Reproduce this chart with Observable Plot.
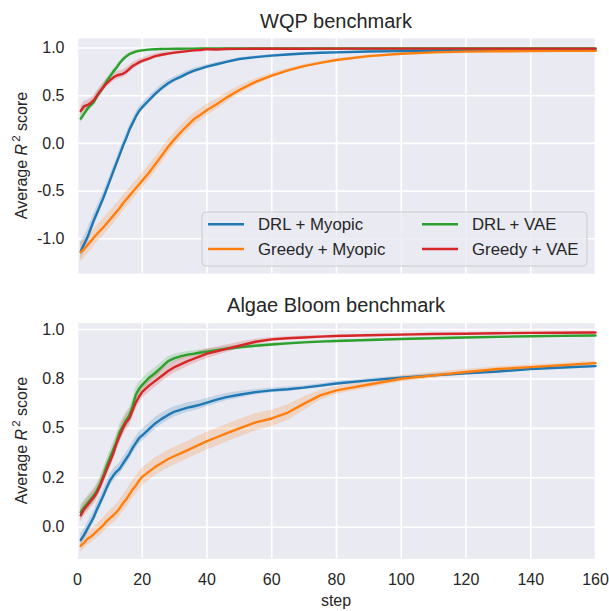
<!DOCTYPE html>
<html>
<head>
<meta charset="utf-8">
<script src="https://cdn.jsdelivr.net/npm/d3@7"></script>
<script src="https://cdn.jsdelivr.net/npm/@observablehq/plot@0.6"></script>
<style>
  body { margin: 0; background: #fff; }
  #chart { width: 609px; }
  #chart svg { display: block; }
</style>
</head>
<body>
<div id="chart"></div>
<script>
// Evaluation steps at which the averaged scores are recorded
const steps = [1,2,3,4,5,6,7,8,9,10,
  11,12,13,14,15,16,17,18,19,20,
  22,24,26,28,30,32,34,36,38,40,
  43,46,50,55,60,65,70,75,80,
  90,100,110,120,130,140,150,160];

const seriesNames = ["DRL + Myopic", "Greedy + Myopic", "DRL + VAE", "Greedy + VAE"];
const seriesColors = ["#1f77b4", "#ff7f0e", "#2ca02c", "#d62728"];

const xTicks = [0, 20, 40, 60, 80, 100, 120, 140, 160];

// WQP benchmark: mean R² and spread
const wqpDrlMyopic = [-1.13,-1.06,-0.99,-0.90,-0.81,-0.73,-0.65,-0.57,-0.48,-0.39,
  -0.30,-0.21,-0.12,-0.03,0.05,0.14,0.21,0.28,0.34,0.38,
  0.45,0.52,0.58,0.63,0.67,0.70,0.735,0.763,0.785,0.805,
  0.83,0.855,0.885,0.905,0.92,0.932,0.942,0.95,0.955,
  0.963,0.968,0.972,0.974,0.975,0.976,0.976,0.977];
const wqpDrlMyopicSd = [0.09,0.085,0.08,0.075,0.07,0.065,0.06,0.058,0.055,0.052,
  0.05,0.05,0.048,0.047,0.046,0.045,0.044,0.043,0.042,0.04,
  0.038,0.036,0.034,0.032,0.03,0.028,0.026,0.024,0.022,0.02,
  0.018,0.016,0.014,0.012,0.011,0.01,0.009,0.008,0.008,
  0.007,0.006,0.005,0.005,0.005,0.005,0.005,0.005];

const wqpGreedyMyopic = [-1.14,-1.11,-1.07,-1.03,-0.99,-0.95,-0.915,-0.88,-0.84,-0.80,
  -0.76,-0.72,-0.68,-0.63,-0.59,-0.55,-0.51,-0.47,-0.43,-0.39,
  -0.31,-0.22,-0.13,-0.035,0.045,0.12,0.19,0.255,0.30,0.35,
  0.41,0.48,0.56,0.645,0.71,0.765,0.81,0.845,0.875,
  0.915,0.94,0.955,0.962,0.966,0.968,0.97,0.97];
const wqpGreedyMyopicSd = [0.1,0.1,0.095,0.095,0.09,0.09,0.09,0.09,0.09,0.09,
  0.085,0.085,0.085,0.085,0.08,0.08,0.08,0.08,0.08,0.08,
  0.078,0.076,0.074,0.072,0.07,0.068,0.066,0.064,0.062,0.06,
  0.055,0.05,0.042,0.032,0.025,0.02,0.017,0.015,0.013,
  0.011,0.009,0.008,0.007,0.006,0.006,0.005,0.005];

const wqpDrlVae = [0.26,0.31,0.36,0.40,0.43,0.49,0.54,0.59,0.65,0.70,
  0.75,0.79,0.84,0.88,0.91,0.935,0.95,0.962,0.97,0.976,
  0.983,0.987,0.99,0.991,0.992,0.993,0.994,0.994,0.995,0.995,
  0.995,0.995,0.995,0.995,0.995,0.995,0.995,0.995,0.995,
  0.995,0.995,0.995,0.995,0.995,0.995,0.995,0.995];
const wqpDrlVaeSd = [0.05,0.048,0.045,0.043,0.04,0.038,0.036,0.034,0.032,0.03,
  0.028,0.026,0.024,0.022,0.02,0.018,0.016,0.014,0.012,0.01,
  0.009,0.008,0.007,0.006,0.005,0.005,0.004,0.004,0.004,0.004,
  0.004,0.004,0.004,0.004,0.004,0.004,0.004,0.004,0.004,
  0.003,0.003,0.003,0.003,0.003,0.003,0.003,0.003];

const wqpGreedyVae = [0.34,0.39,0.40,0.42,0.45,0.50,0.55,0.59,0.63,0.66,
  0.69,0.71,0.72,0.73,0.75,0.78,0.81,0.83,0.85,0.865,
  0.89,0.915,0.93,0.942,0.952,0.96,0.968,0.976,0.98,0.988,
  0.984,0.99,0.991,0.992,0.993,0.993,0.993,0.994,0.994,
  0.994,0.994,0.994,0.994,0.994,0.994,0.994,0.994];
const wqpGreedyVaeSd = [0.05,0.05,0.05,0.05,0.05,0.048,0.047,0.046,0.045,0.044,
  0.043,0.042,0.041,0.04,0.04,0.038,0.036,0.034,0.032,0.03,
  0.028,0.026,0.024,0.022,0.02,0.018,0.016,0.015,0.014,0.013,
  0.012,0.011,0.01,0.009,0.008,0.007,0.006,0.006,0.005,
  0.005,0.005,0.005,0.005,0.005,0.005,0.005,0.005];

// Algae Bloom benchmark: mean R² and spread
const algaeDrlMyopic = [-0.065,-0.04,-0.01,0.02,0.05,0.09,0.125,0.16,0.20,0.235,
  0.26,0.28,0.295,0.32,0.345,0.37,0.40,0.425,0.45,0.465,
  0.495,0.525,0.548,0.568,0.585,0.595,0.605,0.612,0.62,0.63,
  0.645,0.658,0.67,0.683,0.692,0.698,0.706,0.716,0.727,
  0.743,0.756,0.768,0.779,0.788,0.8,0.808,0.815];
const algaeDrlMyopicSd = [0.03,0.03,0.03,0.03,0.03,0.03,0.03,0.03,0.03,0.03,
  0.03,0.03,0.03,0.03,0.03,0.03,0.03,0.03,0.03,0.03,
  0.03,0.03,0.028,0.027,0.026,0.025,0.024,0.023,0.022,0.021,
  0.02,0.018,0.016,0.014,0.012,0.011,0.01,0.01,0.01,
  0.009,0.008,0.008,0.007,0.007,0.007,0.007,0.007];

const algaeGreedyMyopic = [-0.095,-0.08,-0.06,-0.05,-0.035,-0.02,-0.005,0.01,0.03,0.045,
  0.06,0.075,0.095,0.12,0.14,0.165,0.19,0.21,0.235,0.255,
  0.28,0.305,0.325,0.345,0.36,0.375,0.39,0.405,0.42,0.435,
  0.455,0.475,0.5,0.53,0.55,0.58,0.625,0.667,0.692,
  0.722,0.751,0.768,0.785,0.8,0.81,0.82,0.83];
const algaeGreedyMyopicSd = [0.03,0.03,0.032,0.033,0.034,0.035,0.036,0.037,0.038,0.039,
  0.04,0.04,0.041,0.042,0.043,0.044,0.045,0.045,0.045,0.045,
  0.045,0.045,0.045,0.045,0.045,0.045,0.045,0.045,0.045,0.045,
  0.045,0.045,0.045,0.044,0.042,0.04,0.035,0.025,0.02,
  0.018,0.016,0.015,0.014,0.012,0.011,0.01,0.01];

const algaeDrlVae = [0.076,0.10,0.12,0.14,0.16,0.185,0.22,0.26,0.31,0.35,
  0.39,0.43,0.48,0.51,0.54,0.565,0.61,0.67,0.70,0.72,
  0.755,0.78,0.81,0.84,0.855,0.865,0.873,0.878,0.884,0.888,
  0.895,0.903,0.91,0.918,0.924,0.93,0.935,0.939,0.942,
  0.947,0.952,0.956,0.96,0.963,0.966,0.968,0.97];
const algaeDrlVaeSd = [0.035,0.035,0.035,0.035,0.035,0.035,0.035,0.035,0.035,0.035,
  0.037,0.038,0.04,0.04,0.04,0.038,0.036,0.034,0.032,0.03,
  0.028,0.026,0.024,0.022,0.02,0.018,0.016,0.015,0.014,0.013,
  0.012,0.011,0.01,0.009,0.008,0.007,0.006,0.006,0.005,
  0.005,0.005,0.005,0.005,0.005,0.005,0.005,0.005];

const algaeGreedyVae = [0.06,0.09,0.11,0.13,0.15,0.175,0.21,0.25,0.29,0.33,
  0.37,0.42,0.46,0.50,0.53,0.55,0.59,0.63,0.66,0.685,
  0.715,0.74,0.765,0.79,0.81,0.825,0.84,0.853,0.866,0.878,
  0.89,0.902,0.918,0.938,0.95,0.956,0.96,0.964,0.967,
  0.971,0.974,0.977,0.979,0.981,0.983,0.984,0.985];
const algaeGreedyVaeSd = [0.035,0.035,0.035,0.035,0.035,0.035,0.035,0.035,0.035,0.035,
  0.035,0.036,0.037,0.038,0.038,0.038,0.037,0.036,0.035,0.034,
  0.033,0.032,0.031,0.03,0.029,0.028,0.027,0.026,0.025,0.024,
  0.022,0.02,0.017,0.013,0.01,0.008,0.007,0.006,0.005,
  0.005,0.005,0.005,0.005,0.005,0.005,0.005,0.005];

// Y axis ticks for each panel
const wqpYTicks = [-1, -0.5, 0, 0.5, 1];
const wqpYTickLabels = ["-1.0", "-0.5", "0.0", "0.5", "1.0"];
const algaeYTicks = [0, 0.25, 0.5, 0.75, 1];
const algaeYTickLabels = ["0.0", "0.2", "0.5", "0.8", "1.0"];

const FONT = '"Liberation Sans", Arial, "DejaVu Sans", sans-serif';
const TEXT = "#262626";
const W = 609, ML = 77, MR = 14;

function tidy(list) {
  return list.flatMap(([name, values, sd]) =>
    steps.map((s, i) => ({
      series: name, step: s, value: values[i],
      lo: values[i] - sd[i], hi: values[i] + sd[i]
    })));
}

function panel({title, rows, yDomain, yTicks, yTickLabels, height, marginTop, marginBottom, showX, legend}) {
  const svg = Plot.plot({
    width: W, height, marginLeft: ML, marginRight: MR, marginTop, marginBottom,
    style: {fontFamily: FONT, fontSize: "16px", color: TEXT, background: "white", overflow: "visible"},
    x: {domain: [0, 160], axis: null},
    y: {domain: yDomain, axis: null},
    color: {domain: seriesNames, range: seriesColors},
    marks: [
      Plot.frame({fill: "#EAEAF2", stroke: "none"}),
      Plot.gridX(xTicks, {stroke: "#ffffff", strokeOpacity: 1, strokeWidth: 1.6}),
      Plot.gridY(yTicks, {stroke: "#ffffff", strokeOpacity: 1, strokeWidth: 1.6}),
      Plot.areaY(rows, {x: "step", y1: "lo", y2: "hi", z: "series", fill: "series", fillOpacity: 0.2}),
      Plot.lineY(rows, {x: "step", y: "value", z: "series", stroke: "series", strokeWidth: 2.4}),
      Plot.axisY(yTicks, {tickSize: 0, tickPadding: 13, label: null, fill: TEXT,
        tickFormat: v => yTickLabels[yTicks.indexOf(v)]}),
      showX ? Plot.axisX(xTicks, {tickSize: 0, tickPadding: 15, label: null, fill: TEXT,
        tickFormat: d => String(d)}) : null
    ]
  });

  const s = d3.select(svg);
  const cx = ML + (W - ML - MR) / 2;
  const cy = marginTop + (height - marginTop - marginBottom) / 2;

  // panel title
  s.append("text")
    .attr("x", cx).attr("y", marginTop - 10.3)
    .attr("text-anchor", "middle").attr("font-size", 20).attr("fill", TEXT)
    .text(title);

  // y axis label with italic R and superscript 2
  const yl = s.append("text")
    .attr("transform", `translate(27,${cy}) rotate(-90)`)
    .attr("text-anchor", "middle").attr("font-size", 16).attr("fill", TEXT);
  yl.append("tspan").text("Average ");
  yl.append("tspan").attr("font-style", "italic").text("R");
  yl.append("tspan").attr("font-size", 11.5).attr("dx", 2).attr("dy", -7).text("2");
  yl.append("tspan").attr("dy", 7).text(" score");

  if (showX) {
    s.append("text")
      .attr("x", cx).attr("y", height - 5)
      .attr("text-anchor", "middle").attr("font-size", 16).attr("fill", TEXT)
      .text("step");
  }

  if (legend) {
    const g = s.append("g").attr("text-anchor", "start");
    g.append("rect")
      .attr("x", 202).attr("y", 212).attr("width", 385).attr("height", 54)
      .attr("rx", 4).attr("fill", "#EAEAF2").attr("fill-opacity", 0.8)
      .attr("stroke", "#cccccc").attr("stroke-width", 1);
    const colX = [208, 422];
    const rowY = [224.3, 249];
    seriesNames.forEach((name, i) => {
      const x0 = colX[Math.floor(i / 2)], y0 = rowY[i % 2];
      g.append("line").attr("x1", x0).attr("x2", x0 + 36).attr("y1", y0).attr("y2", y0)
        .attr("stroke", seriesColors[i]).attr("stroke-width", 2.4);
      g.append("text").attr("x", x0 + 50).attr("y", y0 + 6)
        .attr("text-anchor", "start")
        .attr("font-size", 16.8).attr("fill", TEXT).text(name);
    });
  }
  return svg;
}

const chart = document.getElementById("chart");

chart.appendChild(panel({
  title: "WQP benchmark",
  rows: tidy([
    [seriesNames[0], wqpDrlMyopic, wqpDrlMyopicSd],
    [seriesNames[1], wqpGreedyMyopic, wqpGreedyMyopicSd],
    [seriesNames[2], wqpDrlVae, wqpDrlVaeSd],
    [seriesNames[3], wqpGreedyVae, wqpGreedyVaeSd]
  ]),
  yDomain: [-1.364, 1.10], yTicks: wqpYTicks, yTickLabels: wqpYTickLabels,
  height: 290, marginTop: 38, marginBottom: 17, showX: false, legend: true
}));

chart.appendChild(panel({
  title: "Algae Bloom benchmark",
  rows: tidy([
    [seriesNames[0], algaeDrlMyopic, algaeDrlMyopicSd],
    [seriesNames[1], algaeGreedyMyopic, algaeGreedyMyopicSd],
    [seriesNames[2], algaeDrlVae, algaeDrlVaeSd],
    [seriesNames[3], algaeGreedyVae, algaeGreedyVaeSd]
  ]),
  yDomain: [-0.16, 1.032], yTicks: algaeYTicks, yTickLabels: algaeYTickLabels,
  height: 321, marginTop: 32.7, marginBottom: 52.7, showX: true, legend: false
}));
</script>
</body>
</html>
